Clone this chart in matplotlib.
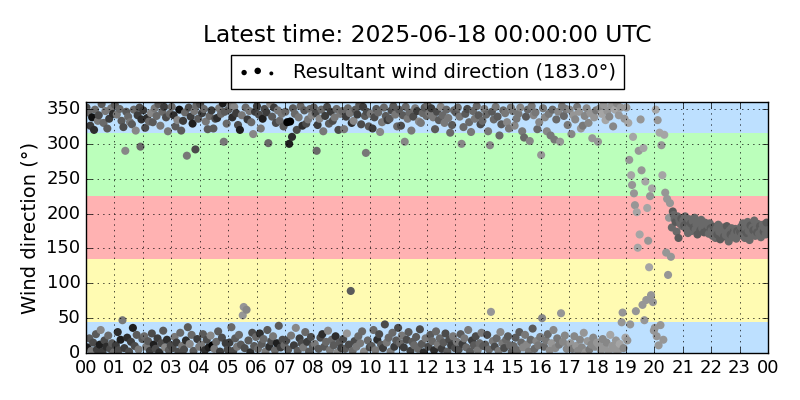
import numpy as np
import matplotlib
matplotlib.use('Agg')
import matplotlib.pyplot as plt

# one sample every 2 minutes, 30 per hour
wind_dir = [
    352, 8, 345, 21, 326, 3, 338, 15, 320, 349, 27, 5, 333, 341, 12, 33, 357, 2, 330, 18, 347, 9, 322, 25, 336, 6, 351, 14, 343, 1,
    356, 11, 342, 30, 4, 350, 19, 333, 47, 324, 7, 290, 346, 22, 339, 2, 331, 16, 328, 36, 349, 10, 319, 26, 341, 5, 352, 296, 335, 20,
    348, 24, 323, 9, 337, 17, 332, 3, 344, 28, 331, 12, 351, 6, 340, 21, 357, 1, 326, 14, 346, 32, 353, 8, 338, 19, 318, 4, 343, 11,
    353, 7, 341, 23, 325, 15, 334, 2, 349, 29, 319, 10, 333, 5, 345, 18, 283, 37, 352, 13, 339, 26, 329, 3, 347, 292, 355, 20, 336, 9,
    357, 12, 344, 27, 350, 4, 332, 19, 321, 8, 340, 25, 348, 11, 322, 6, 336, 16, 337, 31, 351, 2, 343, 22, 358, 303, 346, 14, 329, 5,
    349, 15, 356, 37, 338, 3, 353, 21, 344, 9, 327, 26, 320, 12, 341, 54, 66, 7, 352, 62, 335, 18, 347, 1, 331, 29, 314, 10, 346, 23,
    354, 6, 342, 28, 322, 13, 336, 20, 350, 2, 345, 33, 301, 9, 357, 17, 339, 24, 352, 4, 330, 14, 348, 39, 333, 8, 343, 19, 325, 11,
    346, 18, 331, 5, 300, 332, 25, 310, 351, 11, 343, 36, 320, 3, 338, 21, 354, 14, 326, 8, 348, 30, 329, 16, 335, 2, 350, 23, 341, 10,
    352, 13, 344, 290, 327, 6, 336, 22, 349, 27, 318, 9, 340, 16, 353, 32, 329, 4, 346, 19, 333, 11, 338, 24, 350, 1, 320, 15, 343, 7,
    347, 20, 321, 6, 339, 28, 351, 12, 344, 89, 330, 3, 333, 17, 349, 9, 342, 24, 356, 14, 328, 31, 353, 2, 340, 287, 346, 18, 325, 8,
    343, 10, 322, 33, 338, 4, 350, 19, 345, 27, 317, 12, 331, 7, 352, 41, 340, 15, 334, 22, 336, 2, 348, 29, 354, 9, 342, 18, 325, 36,
    349, 14, 326, 25, 341, 8, 303, 353, 19, 336, 30, 345, 3, 319, 16, 339, 11, 351, 23, 347, 6, 332, 34, 330, 13, 344, 1, 352, 21, 340,
    356, 9, 344, 26, 351, 17, 338, 4, 321, 31, 346, 12, 334, 21, 353, 6, 341, 15, 330, 28, 349, 2, 337, 19, 316, 11, 327, 24, 348, 7,
    345, 16, 352, 5, 339, 27, 300, 13, 324, 21, 343, 8, 350, 33, 331, 2, 317, 18, 347, 11, 336, 24, 354, 4, 341, 14, 328, 29, 333, 10,
    350, 12, 342, 26, 318, 5, 298, 59, 346, 17, 335, 9, 353, 21, 339, 3, 312, 30, 328, 14, 348, 7, 344, 19, 331, 24, 322, 11, 352, 2,
    347, 10, 326, 22, 336, 4, 343, 30, 352, 15, 318, 8, 309, 26, 339, 12, 349, 2, 304, 19, 354, 35, 341, 6, 345, 17, 321, 11, 331, 23,
    284, 50, 351, 9, 338, 18, 318, 27, 343, 4, 312, 14, 349, 33, 306, 7, 335, 21, 346, 12, 303, 57, 354, 16, 340, 25, 350, 6, 327, 11,
    349, 14, 314, 6, 341, 24, 335, 10, 353, 3, 346, 19, 322, 8, 326, 29, 340, 1, 351, 17, 330, 5, 344, 12, 308, 22, 338, 9, 348, 15,
    303, 12, 351, 4, 343, 20, 356, 8, 334, 15, 347, 2, 339, 26, 354, 10, 325, 6, 349, 18, 358, 3, 341, 13, 352, 44, 58, 7, 336, 22,
    352, 18, 330, 277, 41, 255, 241, 310, 229, 212, 60, 202, 151, 290, 170, 335, 262, 69, 294, 47, 246, 76, 208, 161, 123, 225, 83, 236, 73, 32,
    36, 349, 24, 334, 11, 316, 40, 298, 255, 19, 313, 230, 144, 221, 112, 194, 215, 138, 180, 203, 198, 192, 188, 174, 196, 165, 190, 185, 193, 182,
    190, 183, 196, 178, 187, 172, 192, 181, 186, 175, 189, 180, 194, 177, 184, 170, 188, 182, 176, 191, 179, 185, 173, 187, 181, 176, 183, 171, 186, 179,
    176, 168, 181, 172, 165, 178, 170, 184, 174, 163, 177, 171, 180, 167, 175, 169, 182, 173, 160, 176, 170, 179, 166, 174, 171, 178, 164, 175, 168, 173,
    174, 181, 169, 186, 177, 165, 179, 172, 188, 175, 162, 183, 170, 180, 176, 190, 168, 178, 173, 185, 171, 182, 166, 177, 184, 174, 179, 170, 187, 176,
]

wind_speed = [
    6, 9, 4, 5, 7, 3, 10, 6, 8, 4, 5, 7, 3, 6, 9, 2, 5, 7, 4, 6, 3, 8, 5, 4, 7, 6, 3, 5, 8, 4,
    5, 7, 3, 8, 6, 4, 9, 5, 3, 6, 7, 2, 5, 8, 4, 6, 3, 7, 5, 9, 4, 6, 2, 5, 7, 3, 6, 4, 8, 5,
    7, 4, 6, 3, 8, 5, 4, 7, 2, 6, 5, 9, 3, 6, 4, 7, 5, 8, 3, 6, 4, 5, 7, 2, 6, 8, 3, 5, 4, 6,
    4, 6, 8, 3, 5, 7, 2, 6, 10, 4, 5, 3, 7, 6, 4, 8, 3, 5, 6, 2, 7, 4, 9, 5, 3, 6, 4, 7, 5, 3,
    6, 3, 7, 5, 4, 8, 3, 6, 5, 9, 4, 2, 7, 11, 5, 3, 6, 4, 8, 5, 3, 7, 4, 6, 9, 3, 5, 7, 4, 6,
    5, 7, 3, 4, 8, 6, 2, 5, 7, 3, 6, 4, 9, 5, 3, 1, 1, 6, 4, 2, 7, 5, 3, 8, 4, 6, 2, 5, 7, 4,
    7, 4, 6, 8, 3, 5, 9, 4, 6, 3, 7, 5, 4, 8, 2, 6, 5, 3, 7, 4, 6, 9, 3, 5, 4, 7, 3, 6, 5, 4,
    4, 6, 11, 5, 9, 11, 3, 8, 5, 7, 4, 2, 6, 5, 3, 7, 4, 6, 8, 3, 5, 4, 6, 7, 3, 5, 4, 6, 2, 5,
    5, 3, 6, 4, 7, 5, 2, 6, 4, 8, 3, 5, 7, 4, 6, 2, 5, 3, 7, 4, 6, 5, 3, 8, 4, 2, 6, 5, 3, 7,
    4, 6, 3, 5, 7, 1, 4, 6, 3, 5, 8, 4, 2, 6, 5, 3, 7, 4, 5, 3, 6, 4, 7, 2, 5, 3, 6, 4, 5, 6,
    3, 5, 7, 4, 6, 3, 5, 8, 4, 6, 2, 5, 3, 7, 4, 6, 5, 3, 7, 4, 5, 3, 6, 4, 5, 7, 3, 5, 4, 6,
    5, 4, 6, 3, 5, 7, 2, 4, 6, 3, 5, 4, 7, 3, 5, 6, 4, 3, 5, 7, 4, 2, 6, 3, 5, 4, 8, 5, 3, 4,
    4, 6, 3, 5, 7, 4, 3, 8, 5, 4, 6, 3, 5, 4, 2, 7, 4, 5, 3, 6, 4, 5, 3, 6, 4, 7, 5, 3, 4, 6,
    5, 3, 4, 6, 3, 5, 2, 7, 4, 3, 5, 4, 6, 3, 4, 5, 3, 7, 4, 5, 3, 6, 4, 3, 5, 4, 6, 3, 4, 5,
    3, 5, 4, 6, 3, 4, 2, 1, 5, 3, 4, 6, 3, 4, 5, 3, 4, 2, 5, 3, 4, 6, 3, 4, 2, 5, 3, 4, 3, 5,
    3, 4, 2, 5, 3, 4, 3, 5, 2, 4, 3, 2, 4, 3, 5, 2, 4, 3, 2, 4, 3, 5, 2, 4, 3, 2, 4, 3, 2, 3,
    1, 2, 3, 4, 2, 3, 2, 4, 3, 2, 3, 1, 4, 2, 3, 2, 4, 3, 2, 3, 1, 1, 3, 2, 4, 2, 3, 2, 3, 2,
    2, 1, 2, 3, 1, 2, 2, 1, 3, 2, 1, 2, 1, 2, 3, 1, 2, 1, 2, 1, 2, 3, 1, 2, 1, 2, 1, 2, 3, 1,
    1, 1, 2, 1, 0, 2, 1, 1, 0, 2, 1, 1, 2, 0, 1, 1, 2, 1, 0, 1, 2, 1, 1, 0, 1, 1, 1, 2, 1, 0,
    1, 1, 0, 1, 1, 0, 1, 0, 1, 1, 1, 0, 0, 1, 0, 1, 1, 1, 0, 1, 0, 1, 0, 1, 0, 1, 1, 0, 1, 1,
    1, 0, 1, 1, 1, 0, 1, 1, 0, 1, 0, 1, 1, 1, 1, 1, 1, 1, 4, 5, 4, 4, 5, 4, 4, 5, 4, 4, 5, 4,
    4, 5, 4, 4, 5, 4, 4, 4, 5, 4, 4, 5, 4, 4, 4, 5, 4, 4, 5, 4, 4, 4, 5, 4, 4, 5, 4, 4, 4, 5,
    4, 4, 5, 4, 4, 4, 5, 4, 4, 5, 4, 4, 4, 5, 4, 4, 5, 4, 4, 4, 5, 4, 4, 5, 4, 4, 4, 5, 4, 4,
    5, 4, 4, 4, 5, 4, 4, 5, 4, 4, 4, 5, 4, 4, 5, 4, 4, 4, 5, 4, 4, 5, 4, 4, 4, 5, 4, 4, 5, 4,
]

minutes = np.arange(0, 1440, 2) + 1
hour_labels = ['%02d' % (h % 24) for h in range(25)]
resultant = 183.0
latest = '2025-06-18 00:00:00 UTC'

# sector bands (deg) and colours
bands = [(0, 45, '#bde0ff'), (45, 135, '#fffbb2'), (135, 225, '#ffb2b2'),
         (225, 315, '#bbffbb'), (315, 360, '#bde0ff')]

plt.style.use('classic')
plt.rcParams['font.size'] = 14
fig = plt.figure(figsize=(8, 4), dpi=100)
ax = fig.add_axes([86 / 800, 47 / 400, 682 / 800, 251 / 400])

for lo, hi, col in bands:
    ax.axhspan(lo, hi, color=col, lw=0, zorder=0)

hours = minutes / 60.0
ax.scatter(hours, wind_dir, c=wind_speed, cmap='gray_r', vmin=-6, vmax=11,
           s=34, edgecolors='none', zorder=1)

# legend proxy, kept outside the visible area
proxy = ax.scatter([-5, -5], [-50, -50], s=[8, 22], c='k', edgecolors='none',
                   label='Resultant wind direction (%.1f°)' % resultant)

ax.set_xlim(0, 24)
ax.set_ylim(0, 360)
ax.set_xticks(range(25))
ax.set_xticklabels(hour_labels)
ax.set_yticks(range(0, 351, 50))
ax.tick_params(labelsize=13)
ax.set_ylabel('Wind direction (°)', fontsize=14)
ax.grid(True)

ax.legend(handles=[proxy], loc='lower center', bbox_to_anchor=(0.5, 1.05),
          borderaxespad=0, scatterpoints=3, fontsize=14)
fig.text(427 / 800, 1 - 35 / 400, 'Latest time: ' + latest,
         ha='center', va='center', fontsize=16.8)

fig.savefig('out.png', dpi=100)
